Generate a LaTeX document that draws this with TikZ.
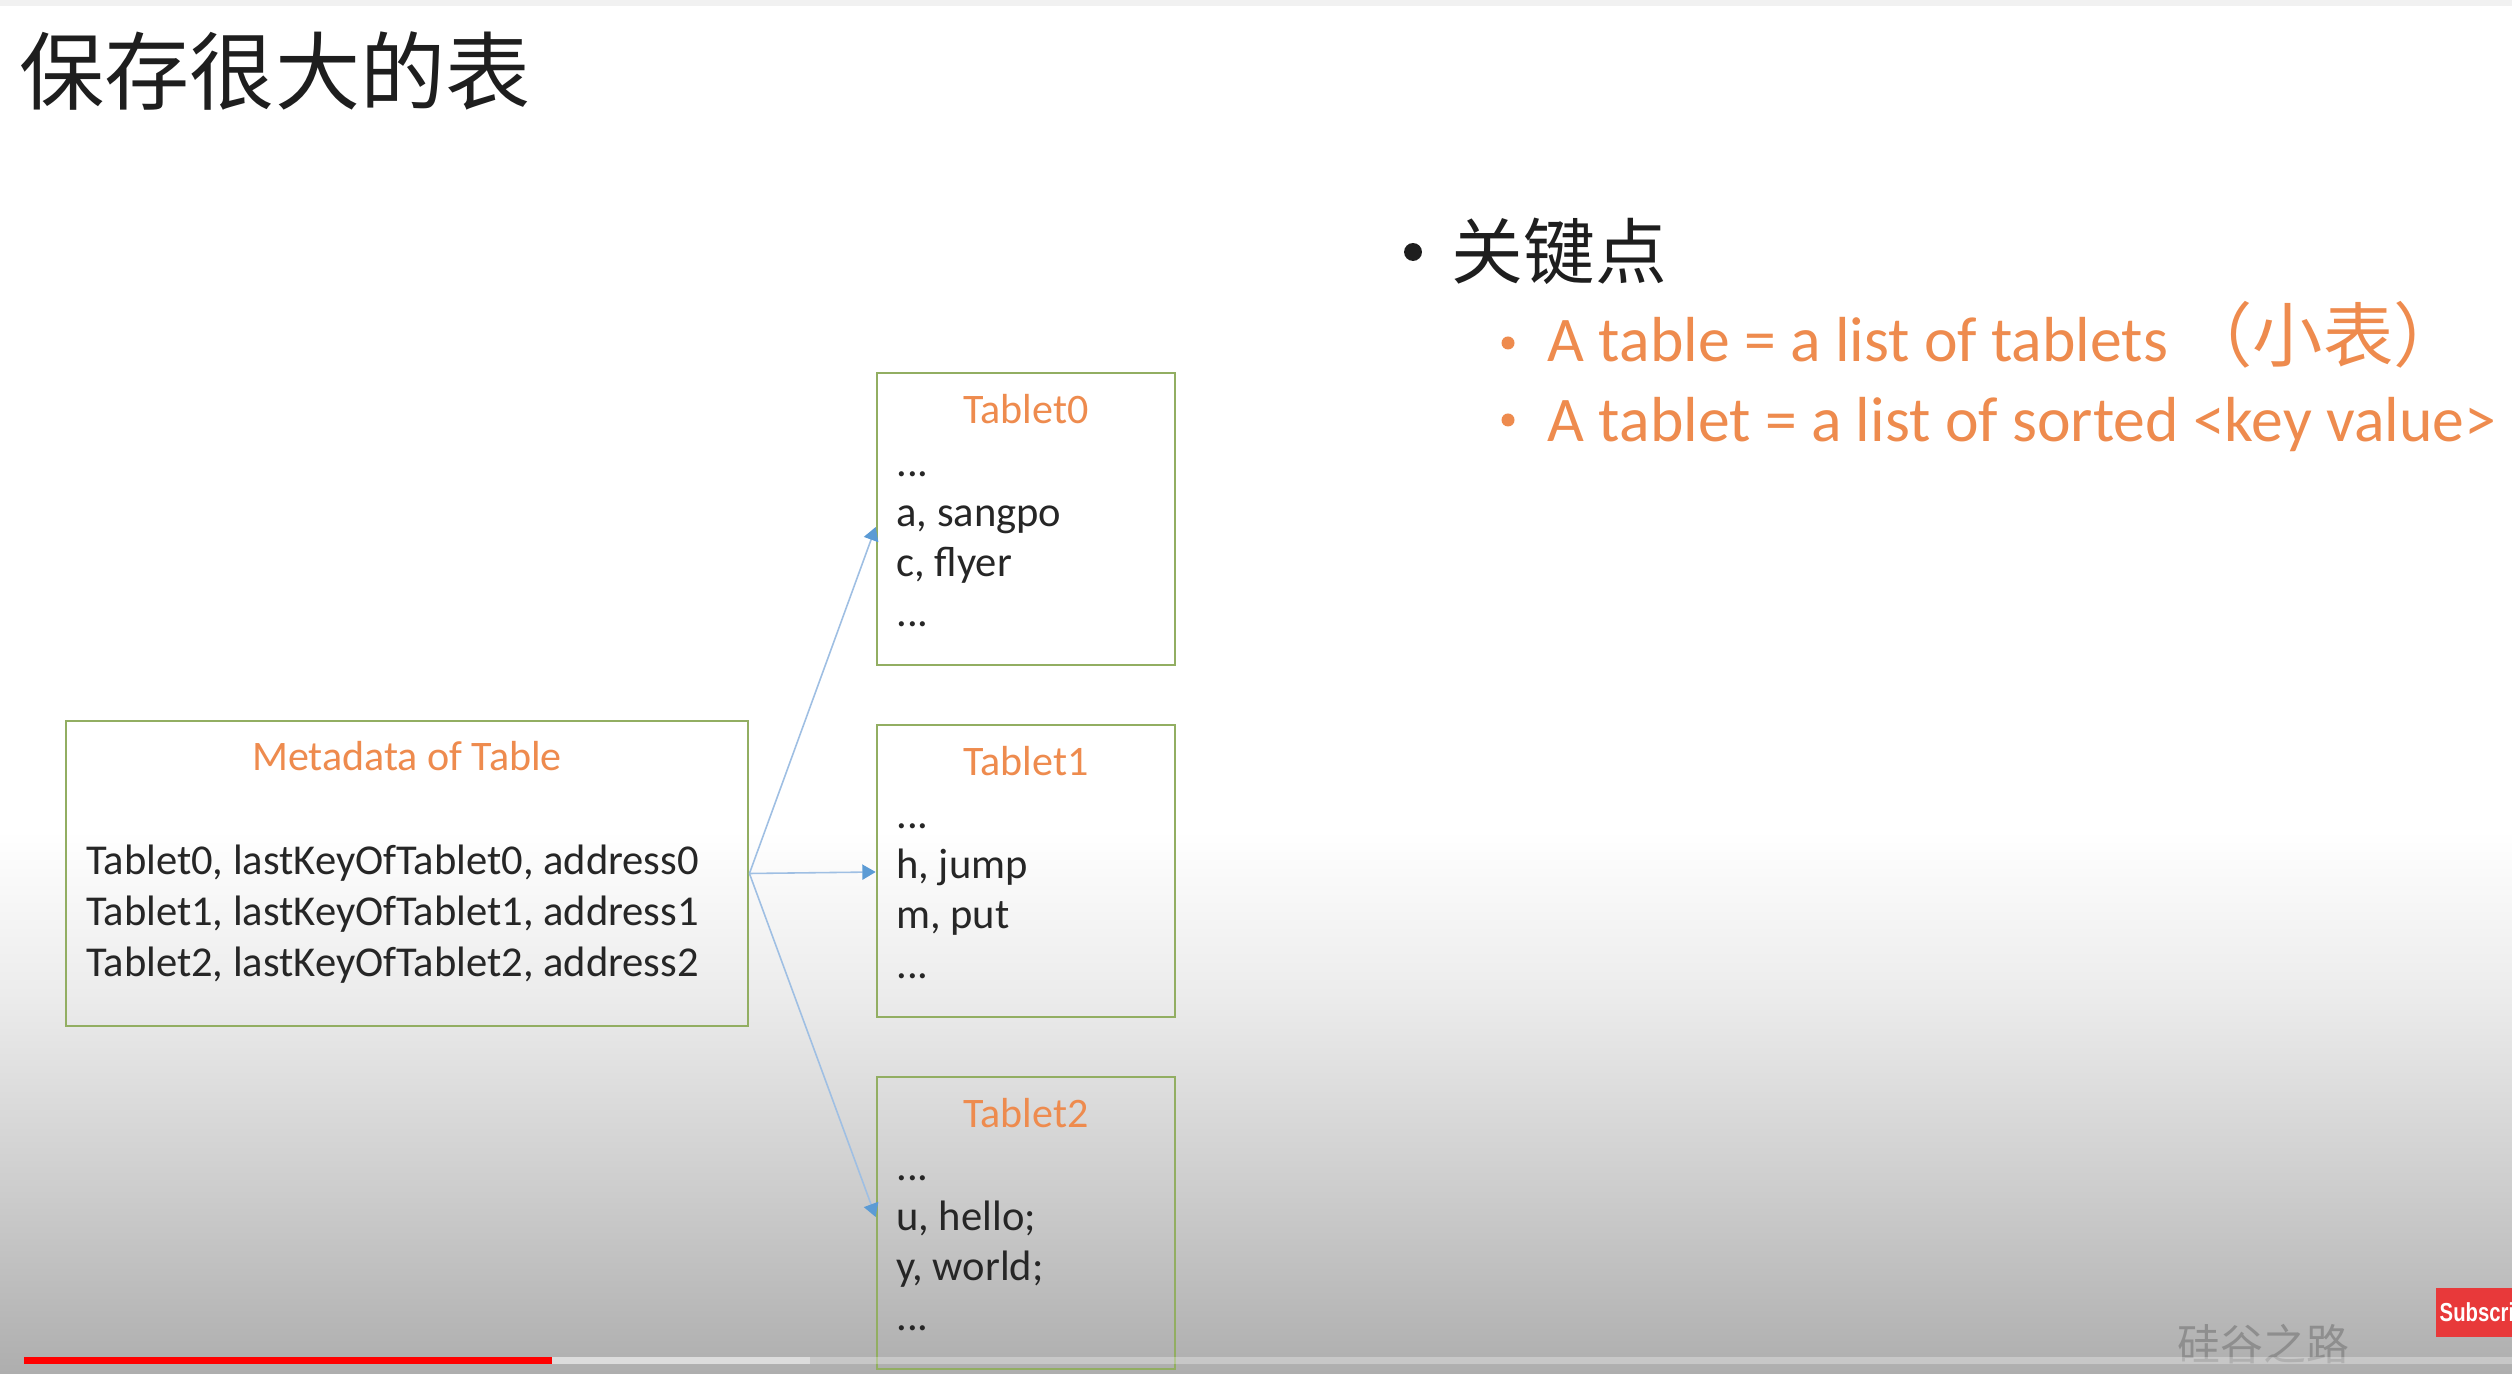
\documentclass[tikz,border=0pt]{standalone}
\usepackage{fontspec}
\setmainfont{Carlito}
\newfontfamily\cjk{Noto Sans CJK SC}
\newfontfamily\btnfont{Liberation Sans}
\usetikzlibrary{arrows.meta,calc}

\definecolor{accent}{HTML}{EE8B4E}
\definecolor{frame}{HTML}{92AE62}
\definecolor{ink}{HTML}{262626}
\definecolor{headink}{HTML}{1E1E1E}
\definecolor{link}{HTML}{9FBFE3}
\definecolor{linkhead}{HTML}{5B9BD5}
\definecolor{bgA}{HTML}{EBEBEB}
\definecolor{bgB}{HTML}{CBCBCB}
\definecolor{bgC}{HTML}{AEAEAE}
\definecolor{topbar}{HTML}{F1F1F1}
\definecolor{buffer}{HTML}{DCDCDC}
\definecolor{playred}{HTML}{FF0000}
\definecolor{subred}{HTML}{E8393A}
\definecolor{wm}{HTML}{8E8E8E}

\begin{document}
\begin{tikzpicture}[x=0.01cm, y=-0.01cm,
  box/.style={draw=frame, line width=0.7pt, inner sep=0pt, rectangle},
  boxtitle/.style={anchor=base, inner sep=0pt, text=accent,
    font=\fontsize{11.95}{14}\selectfont},
  entry/.style={anchor=base west, inner sep=0pt, text=ink,
    font=\fontsize{12.1}{14}\selectfont},
  item/.style={anchor=base west, inner sep=0pt, text=accent,
    font=\fontsize{18.1}{21}\selectfont},
  dot/.style={circle, inner sep=0pt, draw=none},
  link/.style={draw=link, line width=0.45pt,
    -{Triangle[length=3.8pt, width=4.3pt, color=linkhead, fill=linkhead]}}
]
\useasboundingbox (0,0) rectangle (2512,1374);

% page background with the darkening band at the bottom
\fill[white] (0,0) rectangle (2512,831);
\shade[top color=white, bottom color=bgA] (0,830) rectangle (2512,1001);
\shade[top color=bgA, bottom color=bgB] (0,1000) rectangle (2512,1201);
\shade[top color=bgB, bottom color=bgC] (0,1200) rectangle (2512,1374);
\fill[topbar] (0,0) rectangle (2512,6);

% heading
\node[anchor=west, inner sep=0pt, text=headink,
      font=\cjk\fontsize{24.2}{29}\selectfont] (title) at (19,71) {保存很大的表};

% key points
\node[dot, fill=headink, minimum size=5.1pt] (b0) at (1413,252) {};
\node[anchor=west, inner sep=0pt, text=headink,
      font=\cjk\fontsize{20.4}{24}\selectfont] (key) at (1451,251.5) {关键点};
\node[dot, fill=accent, minimum size=3.7pt] (b1) at (1508,343) {};
\node[item] (item1) at (1547,362) {A table = a list of tablets {\cjk\fontsize{20}{24}\selectfont （小表）}};
\node[dot, fill=accent, minimum size=3.7pt] (b2) at (1508,420) {};
\node[item] (item2) at (1547,442) {A tablet = a list of sorted <key value>};

% metadata block
\node[box, minimum width=6.82cm, minimum height=3.05cm] (meta) at (407,873.5) {};
\node[boxtitle] (metaT) at ($(meta.north)+(0,51)$) {Metadata of Table};
\node[entry] (m0) at ($(meta.north west)+(21,155)$) {Tablet0, lastKeyOfTablet0, address0};
\node[entry] (m1) at ($(meta.north west)+(21,206)$) {Tablet1, lastKeyOfTablet1, address1};
\node[entry] (m2) at ($(meta.north west)+(21,257)$) {Tablet2, lastKeyOfTablet2, address2};

% tablets
\node[box, minimum width=2.98cm, minimum height=2.92cm] (t0) at (1026,519) {};
\node[boxtitle] (t0T) at ($(t0.north)+(0,52)$) {Tablet0};
\node[entry] (t0a) at ($(t0.north west)+(20,105)$) {...};
\node[entry] (t0b) at ($(t0.north west)+(20,155)$) {a, sangpo};
\node[entry] (t0c) at ($(t0.north west)+(20,205)$) {c, flyer};
\node[entry] (t0d) at ($(t0.north west)+(20,255)$) {...};

\node[box, minimum width=2.98cm, minimum height=2.92cm] (t1) at (1026,871) {};
\node[boxtitle] (t1T) at ($(t1.north)+(0,52)$) {Tablet1};
\node[entry] (t1a) at ($(t1.north west)+(20,105)$) {...};
\node[entry] (t1b) at ($(t1.north west)+(20,155)$) {h, jump};
\node[entry] (t1c) at ($(t1.north west)+(20,205)$) {m, put};
\node[entry] (t1d) at ($(t1.north west)+(20,255)$) {...};

\node[box, minimum width=2.98cm, minimum height=2.92cm] (t2) at (1026,1223) {};
\node[boxtitle] (t2T) at ($(t2.north)+(0,52)$) {Tablet2};
\node[entry] (t2a) at ($(t2.north west)+(20,105)$) {...};
\node[entry] (t2b) at ($(t2.north west)+(20,155)$) {u, hello;};
\node[entry] (t2c) at ($(t2.north west)+(20,205)$) {y, world;};
\node[entry] (t2d) at ($(t2.north west)+(20,255)$) {...};

% pointers from the metadata to each tablet
\draw[link] (meta.east) -- ([yshift=-0.08cm]t0.west);
\draw[link] (meta.east) -- ([yshift=-0.01cm]t1.west);
\draw[link] (meta.east) -- ([yshift=0.06cm]t2.west);

% watermark
\node[anchor=west, inner sep=0pt, text=wm,
      font=\cjk\fontsize{12.2}{14}\selectfont] (mark) at (2177,1344) {硅谷之路};

% player progress bar
\fill[white, opacity=0.3] (24,1357) rectangle (2512,1364);
\fill[buffer] (552,1357) rectangle (810,1364);
\fill[playred] (24,1357) rectangle (552,1364);

% subscribe button, cut off by the right edge
\begin{scope}
  \clip (2436,1288) rectangle (2512,1337);
  \fill[subred] (2436,1288) rectangle (2512,1337);
  \node[anchor=base west, inner sep=0pt, text=white,
        font=\btnfont\bfseries\fontsize{7.4}{8}\selectfont] (sub) at (2439,1321)
        {\scalebox{0.78}[1]{Subscribe}};
\end{scope}
\end{tikzpicture}
\end{document}
